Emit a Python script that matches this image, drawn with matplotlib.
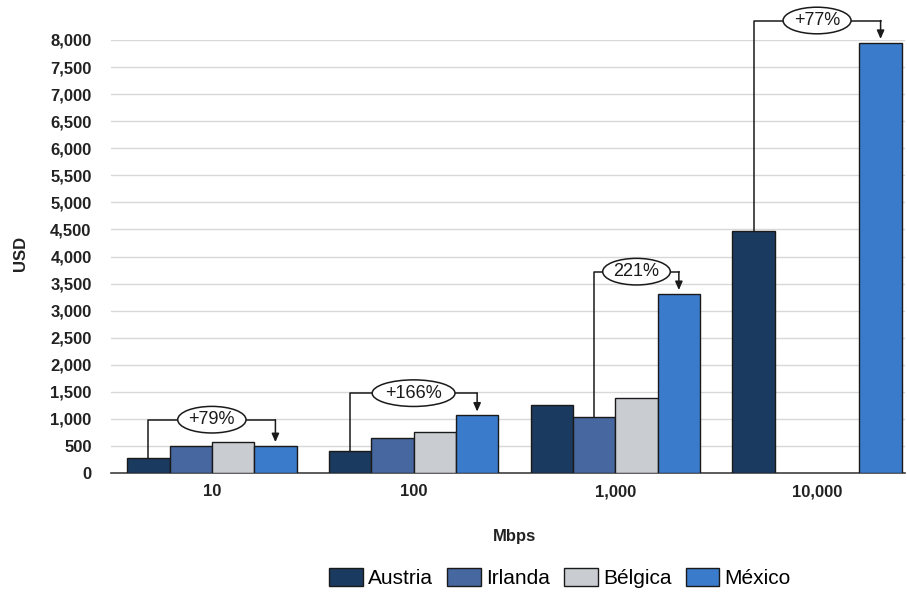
import numpy as np
import matplotlib
matplotlib.use("Agg")
import matplotlib.pyplot as plt
from matplotlib.ticker import FuncFormatter

plt.rcParams['font.family'] = ['Liberation Sans', 'DejaVu Sans']

# datos
velocidades = ["10", "100", "1,000", "10,000"]
paises = ["Austria", "Irlanda", "Bélgica", "México"]
austria = [280, 400, 1260, 4470]
irlanda = [500, 650, 1030, np.nan]
belgica = [575, 760, 1390, np.nan]
mexico = [500, 1065, 3310, 7950]
colores = ["#1b3a5f", "#46679f", "#c9ccd1", "#3a7bcb"]

# diferencias marcadas: (grupo, serie origen, serie destino, texto)
diferencias = [(0, 0, 3, "+79%"), (1, 0, 3, "+166%"), (2, 1, 3, "221%"), (3, 0, 3, "+77%")]

series = [austria, irlanda, belgica, mexico]
fig = plt.figure(figsize=(9.07, 5.92), dpi=100)
ax = fig.add_axes([111 / 907, 1 - 473 / 592, (905 - 111) / 907, (473 - 40) / 592])

x = np.arange(len(velocidades))
ancho = 0.21
offs = (np.arange(4) - 1.5) * ancho
for i, (nombre, vals) in enumerate(zip(paises, series)):
    ax.bar(x + offs[i], vals, ancho, color=colores[i], edgecolor="#1a1a1a",
           linewidth=1, label=nombre, zorder=3)

ax.set_xlim(-0.5, 3.436)
ax.set_ylim(0, 8000)
ax.set_yticks(np.arange(0, 8001, 500))
ax.yaxis.set_major_formatter(FuncFormatter(lambda v, p: f"{int(v):,}"))
ax.set_xticks(x)
ax.set_xticklabels(velocidades)
ax.tick_params(axis="both", length=0, labelsize=12)
ax.tick_params(axis="x", pad=8)
ax.tick_params(axis="y", pad=14)
for lab in ax.get_xticklabels() + ax.get_yticklabels():
    lab.set_fontweight("bold")
    lab.set_color("#222222")
ax.grid(axis="y", color="#d8d8d8", linewidth=1, zorder=0)
for s in ["top", "right", "left"]:
    ax.spines[s].set_visible(False)
ax.spines["bottom"].set_color("#404040")
ax.spines["bottom"].set_linewidth(1.2)

fig.text(20 / 907, 1 - 253 / 592, "USD", rotation=90, fontsize=12, fontweight="bold",
         ha="center", va="center", color="#222222")
fig.text(515 / 907, 1 - 537 / 592, "Mbps", fontsize=12, fontweight="bold",
         ha="center", va="center", color="#222222")

# corchetes con flecha entre barras
for g, a, b, txt in diferencias:
    va_, vb_ = series[a][g], series[b][g]
    tope = np.nanmax([s[g] for s in series])
    nivel = tope + 410
    xa, xb = g + offs[a], g + offs[b]
    ax.plot([xa, xa, xb], [va_, nivel, nivel], color="#1a1a1a", lw=1.1,
            clip_on=False, zorder=4)
    ax.annotate("", xy=(xb, vb_ + 70), xytext=(xb, nivel),
                arrowprops=dict(arrowstyle="-|>,head_length=0.5,head_width=0.22",
                                color="#1a1a1a", lw=1.1, shrinkA=0, shrinkB=0),
                annotation_clip=False, zorder=4)
    ax.text((xa + xb) / 2, nivel, txt, ha="center", va="center", fontsize=13,
            color="#1a1a1a", zorder=5,
            bbox=dict(boxstyle="ellipse,pad=0.05", fc="white", ec="#1a1a1a", lw=1.1))

fig.legend(loc="center", bbox_to_anchor=(560 / 907, 1 - 578 / 592), ncol=4,
           frameon=False, fontsize=15, handlelength=1.6, handleheight=1.0,
           handletextpad=0.25, columnspacing=0.7, borderaxespad=0)

fig.savefig("out.png", dpi=100, facecolor="white")
